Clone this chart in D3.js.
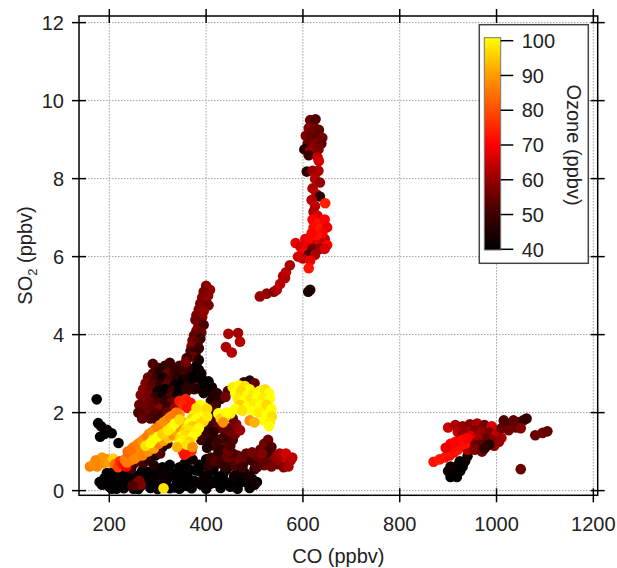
<!DOCTYPE html>
<html><head><meta charset="utf-8">
<script src="https://cdn.jsdelivr.net/npm/d3@7"></script>
<style>html,body{margin:0;padding:0;background:#fff;}svg{display:block;font-family:"Liberation Sans",Arial,sans-serif;}</style>
</head><body>
<svg id="chart" width="617" height="568"></svg>
<script>
// ---------- data: [CO ppbv, SO2 ppbv, Ozone ppbv] ----------
const xTicks = [200, 400, 600, 800, 1000, 1200];
const yTicks = [0, 2, 4, 6, 8, 10, 12];
const ozoneTicks = [40, 50, 60, 70, 80, 90, 100];
const ozoneStops = [40, 50, 60, 70, 80, 90, 100];
const ozoneColors = ["#000000", "#3c0000", "#960000", "#ff0000", "#ff5000", "#ffa000", "#ffff00"];

const blackBottom = [
[185,0.15,40],[195,0.22,40],[200,0.1,41],[210,0.18,40],[218,0.3,42],[225,0.12,40],[232,0.25,40],[240,0.15,41],
[245,0.35,40],[250,0.05,40],[255,0.22,42],[262,0.4,40],[270,0.3,41],[278,0.48,40],[285,0.38,40],[292,0.25,43],
[300,0.45,40],[305,0.15,40],[190,0.32,40],[205,0.35,41],[230,0.42,40],[215,0.05,40],[265,0.12,40],[280,0.2,41],
[295,0.55,42],[310,0.6,40],[320,0.5,40],[320,0.3,40],[330,0.45,40],[340,0.2,41],[345,0.6,40],[355,0.35,40],
[365,0.55,42],[375,0.25,40],[385,0.5,40],[395,0.65,41],[405,0.3,40],[415,0.55,40],[425,0.7,42],[435,0.4,40],
[445,0.6,41],[455,0.25,40],[465,0.5,44],[475,0.35,40],[485,0.2,40],[495,0.3,42],[505,0.22,40],[335,0.08,40],
[360,0.12,40],[390,0.15,41],[420,0.2,40],[450,0.1,40],[480,0.45,45],[500,0.55,46],[400,0.8,40],[430,0.82,42],
[460,0.78,44],[295,0.9,40],[285,0.98,45],[310,1.12,42],
[205,0.05,40],[230,0.06,41],[260,0.04,40],[285,0.07,40],[300,0.04,42],[325,0.06,40],[345,0.05,40],[370,0.06,41],
[400,0.05,40],[430,0.07,40],[465,0.05,42],[490,0.07,40],
[188,0.2,40],[212,0.22,40],[238,0.2,41],[268,0.22,40],[298,0.2,40],[315,0.18,42],[350,0.2,40],[380,0.22,40],
[410,0.18,41],[440,0.22,40],[470,0.2,40],[500,0.15,43],
[200,0.36,40],[222,0.34,41],[252,0.36,40],[275,0.35,40],[308,0.34,42],[338,0.36,40],[362,0.35,40],[395,0.38,41],
[425,0.36,40],[458,0.38,42],[488,0.36,44],
[210,0.5,40],[240,0.52,41],[268,0.5,40],[290,0.48,40],[318,0.52,42],[348,0.5,40],[378,0.52,40],[408,0.5,41],
[440,0.52,42],[472,0.5,43],[325,0.66,40],[355,0.68,41],[385,0.66,40],[415,0.68,42],[450,0.66,43],
[195,0.45,40],[180,0.22,41],[360,0.78,40],[372,0.8,42]
];
const darkLowBand = [
[255,0.18,55],[265,0.15,58],[262,0.25,57],[248,0.12,52],
[410,0.85,50],[425,0.95,48],[440,0.88,52],[450,0.75,54],[465,0.9,55],[478,0.72,50],[490,0.85,56],[500,0.7,53],
[512,0.8,55],[520,0.65,57],[530,0.78,56],[540,0.9,58],[548,0.68,55],[555,0.75,62],[562,0.85,64],[568,0.7,66],
[575,0.78,60],[560,0.6,58],[512,1.05,54],[520,1.2,56],[528,1.3,55],[535,1.12,52],[525,0.98,50],
[270,0.7,50],[282,0.78,48],[292,0.65,45],[298,1.05,50],[320,1.2,48],[305,0.95,52],
[240,0.72,58],[250,0.68,55],[258,0.75,52],[245,0.55,50],
[405,0.65,48],[418,0.75,52],[432,0.7,50],[445,0.85,55],[458,0.65,52],[470,0.8,56],[483,0.95,54],[495,0.78,50],
[505,0.9,55],[515,0.95,58],[525,0.72,54],[535,0.62,56],[545,0.82,60],[552,0.95,62],[565,0.95,66],[570,0.62,62],
[578,0.85,64],[440,0.6,48],[455,0.95,52],[475,0.6,50],[495,0.98,56],[505,0.6,52]
];
const blackLeft = [
[174,2.34,40],[177,1.73,40],[183,1.65,41],[195,1.56,40],[181,1.38,40],[205,1.47,41],[219,1.22,40],[190,1.45,40]
];
const orangeLeft = [
[160,0.62,86],[168,0.68,88],[175,0.62,87],[180,0.75,85],[188,0.7,88],[195,0.8,86],[200,0.72,90],[208,0.82,95],
[212,0.68,84],[218,0.6,78],[222,0.75,76],[185,0.85,89],[172,0.78,87],[228,0.68,72],[235,0.62,70]
];
const darkCluster = [
[300,3.15,50],[315,3.2,48],[330,3.15,52],[345,3.2,50],
[290,3.0,52],[305,3.05,46],[320,3.0,55],[335,3.05,49],[350,3.0,45],
[280,2.9,55],[295,2.85,50],[310,2.9,44],[325,2.85,52],[340,2.9,47],[355,2.88,42],
[275,2.75,57],[290,2.72,53],[305,2.7,48],[320,2.72,54],[335,2.7,42],[350,2.75,40],[365,2.7,52],[380,2.75,56],
[270,2.6,58],[285,2.58,55],[300,2.55,42],[315,2.6,40],[330,2.55,50],[345,2.6,41],[360,2.55,54],[375,2.6,48],
[265,2.45,58],[280,2.42,56],[295,2.4,50],[310,2.45,42],[325,2.4,52],[340,2.42,40],[355,2.45,44],
[270,2.3,57],[285,2.28,55],[300,2.25,52],[315,2.3,48],[330,2.28,55],
[275,2.15,56],[290,2.12,54],[305,2.1,58],[320,2.15,50],[335,2.12,60],
[280,2.0,55],[295,1.98,52],[310,1.95,50],
[360,2.9,45],[370,3.05,42],[380,3.2,40],[385,3.1,40],[368,2.85,44],[375,2.9,40],[390,3.0,42],[362,3.15,48],
[352,3.1,50],[385,2.62,45],[358,2.62,47],
[262,2.2,55],[260,2.0,52],[268,1.85,54],[285,1.85,52],[300,1.8,50],[320,2.0,55],[340,2.0,58],[290,3.25,52],[325,3.28,50],
[392,2.85,40],[405,2.8,41],[398,2.68,40],[412,2.65,42],[405,2.55,40],[395,2.5,43],[415,2.45,45],[422,2.5,48],
[410,2.3,45],[420,2.2,50],[430,2.35,48],[415,2.1,52],[425,2.45,46],
[400,1.5,48],[412,1.4,52],[425,1.3,50],[438,1.2,54],[405,1.25,45],[418,1.15,50],[430,1.05,48],[445,1.0,55],
[410,1.65,50],[422,1.6,55],[440,1.45,58],[455,1.3,52],
[398,1.8,50],[408,1.95,46],[420,1.85,52],[432,1.6,55],[448,1.6,54],[460,1.45,56],[450,1.15,52],[435,1.35,50],
[415,1.5,46],[402,1.1,44],[390,1.3,50],[462,1.7,58],[470,1.55,60],[455,1.85,55]
];
const redPatch = [
[345,2.3,73],[358,2.35,74],[368,2.25,72],[352,2.18,75],[362,2.12,72],[358,0.95,72],[370,1.02,74]
];
const orangeBand = [
[232,0.8,86],[240,0.9,84],[248,0.95,87],[255,1.05,85],[262,1.1,88],[270,1.2,86],[278,1.25,90],[285,1.35,87],
[292,1.42,92],[300,1.5,88],[308,1.55,86],[315,1.65,90],[322,1.72,88],[330,1.78,92],[338,1.85,86],[345,1.95,88],
[245,0.78,84],[255,0.85,86],[265,0.95,88],[275,1.02,85],[285,1.1,95],[295,1.18,92],[305,1.3,88],[315,1.38,96],
[325,1.45,90],[335,1.55,94],[342,1.65,88],
[238,1.0,83],[250,1.12,86],[262,1.22,84],[272,1.32,88],[282,1.45,86],[295,1.58,85],[305,1.68,88],[318,1.8,90],
[330,1.92,87],
[236,0.72,85],[252,0.82,87],[268,0.9,86],[280,1.0,88],[292,1.08,90],[302,1.2,86],[312,1.28,90],[322,1.35,94],
[332,1.42,88],[340,1.5,92],[348,1.6,89],[352,1.75,90],[245,1.05,84],[258,1.18,86],[268,1.28,88],[278,1.38,85],
[288,1.5,88],[300,1.62,86],[312,1.75,88],[325,1.88,86],[338,2.0,85],
[290,1.3,98],[300,1.38,100],[318,1.52,97],[328,1.62,100],[310,1.45,95],
[275,1.15,97],[285,1.22,100],[322,1.55,98],[335,1.72,100],[345,1.82,96]
];
const yellowBand = [
[395,2.15,98],[385,2.05,100],[398,2.0,97],[375,1.95,99],[390,1.9,100],[370,1.85,96],[382,1.8,98],[395,1.78,95],
[365,1.72,100],[378,1.68,97],[360,1.6,98],[372,1.55,100],[355,1.5,95],[368,1.45,97],[350,1.4,100],[362,1.35,98],
[345,1.3,96],[357,1.25,100],[350,1.15,93],[360,1.08,85],[352,1.0,78],[365,1.0,75],[355,0.92,72],[312,0.06,97],
[388,2.2,100],[402,2.1,96],[380,2.12,97],[378,1.82,100],[388,1.72,96],[402,1.9,98],[372,1.65,95],[385,1.6,100],
[365,1.55,97],[380,1.5,99],[358,1.42,96],[372,1.38,100],[352,1.3,98],[366,1.25,95],[345,1.2,100],[360,1.18,97],
[340,1.12,92],[372,1.12,88]
];
const yellowCluster = [
[478,2.78,50],[490,2.82,45],[500,2.75,55],[445,2.55,52],[440,2.4,56],
[455,2.65,98],[468,2.7,100],[480,2.68,97],[490,2.6,100],[460,2.5,100],[472,2.55,96],[485,2.45,100],[498,2.5,98],
[510,2.55,100],[522,2.6,97],[530,2.5,100],[465,2.35,98],[478,2.3,100],[492,2.35,97],[505,2.4,100],[518,2.38,98],
[532,2.35,100],[470,2.2,95],[485,2.15,100],[500,2.22,98],[512,2.2,100],[525,2.2,96],[535,2.1,100],[460,2.1,100],
[475,2.05,97],[495,2.05,100],[510,2.0,98],[525,1.95,100],[536,1.9,97],[520,1.8,100],[532,1.75,98],[530,1.65,100],
[450,1.98,99],[440,1.9,96],[425,1.98,100],[490,1.8,88],[500,1.75,92],[430,1.85,95],[442,2.0,100],[435,1.75,88]
];
const column400 = [
[400,5.25,58],[408,5.15,60],[395,5.1,57],[404,5.0,59],[392,4.95,58],[400,4.85,60],[388,4.8,57],[405,4.75,56],
[385,4.65,58],[395,4.6,60],[380,4.5,57],[392,4.45,59],[378,4.38,56],[388,4.3,55],[384,4.2,58],[395,4.25,52],
[380,4.1,57],[390,4.05,55],[375,3.98,54],[388,3.9,50],[372,3.85,56],[382,3.78,53],[370,3.7,58],[385,3.65,50],
[368,3.58,52],[378,3.5,48],[373,3.43,55],[360,3.4,50],[385,3.35,44],[358,3.3,56]
];
const smallCluster = [
[446,4.02,62],[466,4.04,61],[470,3.82,63],[441,3.68,62],[453,3.54,63]
];
const spike = [
[511,4.98,60],[525,5.05,60],[540,5.1,58],[546,5.15,62],[553,5.3,64],[563,5.45,63],[559,5.5,62],[565,5.6,64],[573,5.78,62],
[611,5.1,44],[615,5.15,45],
[605,6.45,68],[615,6.4,70],[630,6.35,66],[645,6.45,64],[650,6.3,70],[585,6.35,68],[595,6.25,66],[608,6.25,68],
[620,6.2,55],[635,6.2,60],[645,6.2,66],[600,6.1,70],[612,6.05,50],[625,6.05,62],[600,5.95,64],[615,5.9,68],
[612,5.7,72],[590,6.0,66],
[608,8.18,48],[620,8.2,60],[632,8.2,62],[625,8.0,63],[635,7.9,60],[620,7.75,62],[628,7.6,64],[635,7.54,48],
[646,7.37,74],[618,7.45,63],[625,7.3,64],[622,7.15,62],[630,7.05,66],[620,6.95,70],[632,6.85,72],[645,6.95,70],
[622,6.75,71],[635,6.7,73],[650,6.75,68],[640,6.6,70],[628,6.55,72],[618,6.6,70],
[615,9.5,55],[626,9.52,52],[612,9.3,58],[624,9.3,56],[633,9.25,54],[606,9.1,57],[618,9.1,55],[630,9.05,53],
[640,9.05,56],[610,8.9,55],[625,8.9,58],[638,8.9,54],[603,8.75,46],[615,8.72,60],[632,8.75,57],[612,8.6,50],
[630,8.55,64],[633,8.45,66]
];
const rightCluster = [
[905,0.35,40],[918,0.35,41],[900,0.5,42],[912,0.48,40],[925,0.5,40],[930,0.62,41],[918,0.62,40],[905,0.62,43],
[935,0.75,42],[924,0.75,40],[940,0.88,44],[915,0.4,40],
[900,1.62,65],[915,1.68,62],[930,1.65,60],[945,1.7,58],[960,1.72,62],[975,1.68,56],[990,1.65,66],[920,1.5,64],
[940,1.52,62],[955,1.55,58],[970,1.5,60],[985,1.48,57],[1000,1.45,64],[1010,1.35,62],[1005,1.25,60],[990,1.3,58],
[975,1.32,55],[960,1.35,62],[945,1.4,66],[950,1.2,56],[965,1.18,54],[980,1.15,52],[995,1.15,60],[940,1.05,62],
[955,1.05,58],[970,1.0,56],[930,1.5,60],[985,1.18,46],[975,1.08,48],
[870,0.74,72],[882,0.8,73],[893,0.85,72],[903,0.9,71],[900,1.0,72],[912,0.98,72],[920,1.05,73],[910,1.1,71],
[925,1.15,72],[935,1.2,72],[915,1.25,70],[930,1.3,71],[905,1.2,70],[940,1.35,70],[895,1.1,68],
[1010,1.6,55],[1020,1.72,54],[1030,1.68,53],[1040,1.62,55],[1045,1.75,52],[1055,1.8,50],[1062,1.85,48],
[1035,1.8,54],[1025,1.55,56],[1050,1.6,58],[1015,1.8,52],
[1080,1.42,55],[1095,1.48,56],[1105,1.52,54],[1050,0.55,55]
];

// ---------- layout ----------
const svg = d3.select("#chart");
const FS = 20;
const x = d3.scaleLinear().domain([137.4, 1209]).range([79, 597.7]);
const y = d3.scaleLinear().domain([-0.12, 12.17]).range([495.3, 16]);
const color = d3.scaleLinear().domain(ozoneStops).range(ozoneColors).clamp(true);

const plotL = 79, plotR = 597.7, plotT = 16, plotB = 495.3;

// grid
const grid = svg.append("g").attr("stroke", "#a0a0a0").attr("stroke-width", 1).attr("stroke-dasharray", "1.5,1.5");
grid.selectAll("line.gx").data(xTicks).join("line")
  .attr("x1", d => x(d)).attr("x2", d => x(d)).attr("y1", y(0)).attr("y2", y(12));
grid.selectAll("line.gy").data(yTicks).join("line")
  .attr("y1", d => y(d)).attr("y2", d => y(d)).attr("x1", plotL).attr("x2", x(1200));

// points
const allPoints = [].concat(blackBottom, darkLowBand, blackLeft, orangeLeft, darkCluster, redPatch,
  orangeBand, yellowBand, yellowCluster, column400, smallCluster, spike, rightCluster);
svg.append("g").selectAll("circle").data(allPoints).join("circle")
  .attr("cx", d => x(d[0])).attr("cy", d => y(d[1])).attr("r", 5.3)
  .attr("fill", d => color(d[2]));

// frame
svg.append("rect").attr("x", plotL).attr("y", plotT).attr("width", plotR - plotL).attr("height", plotB - plotT)
  .attr("fill", "none").attr("stroke", "#000").attr("stroke-width", 1.5);

// crossing ticks on all four sides
const axes = svg.append("g").attr("stroke", "#000").attr("stroke-width", 1.5);
axes.selectAll("line.tb").data(xTicks).join("line")
  .attr("x1", d => x(d)).attr("x2", d => x(d)).attr("y1", plotB - 7).attr("y2", plotB + 7);
axes.selectAll("line.tt").data(xTicks).join("line")
  .attr("x1", d => x(d)).attr("x2", d => x(d)).attr("y1", plotT - 7).attr("y2", plotT + 7);
axes.selectAll("line.tl").data(yTicks).join("line")
  .attr("y1", d => y(d)).attr("y2", d => y(d)).attr("x1", plotL - 7).attr("x2", plotL + 7);
axes.selectAll("line.tr").data(yTicks).join("line")
  .attr("y1", d => y(d)).attr("y2", d => y(d)).attr("x1", plotR - 7).attr("x2", plotR + 7);

svg.append("g").selectAll("text").data(xTicks).join("text")
  .attr("x", d => x(d)).attr("y", 530.7).attr("text-anchor", "middle")
  .attr("font-size", FS).attr("fill", "#222").text(d => d);
svg.append("g").selectAll("text").data(yTicks).join("text")
  .attr("x", 64).attr("y", d => y(d) + 7.2).attr("text-anchor", "end")
  .attr("font-size", FS).attr("fill", "#222").text(d => d);

// axis titles
svg.append("text").attr("x", (plotL + plotR) / 2).attr("y", 562.5).attr("text-anchor", "middle")
  .attr("font-size", FS).attr("fill", "#222").text("CO (ppbv)");
const yt = svg.append("text").attr("transform", "translate(31.5,255.5) rotate(-90)")
  .attr("text-anchor", "middle").attr("font-size", FS).attr("fill", "#222");
yt.append("tspan").text("SO");
yt.append("tspan").attr("font-size", 13).attr("dy", 5).text("2");
yt.append("tspan").attr("dy", -5).text(" (ppbv)");

// legend / colorbar
const lg = svg.append("g");
lg.append("rect").attr("x", 479.3).attr("y", 24.7).attr("width", 109).attr("height", 238.6)
  .attr("fill", "#fff").attr("stroke", "#444").attr("stroke-width", 1.5);
const cy = d3.scaleLinear().domain([40, 100]).range([249.3, 40.7]);
const defs = svg.append("defs");
const grad = defs.append("linearGradient").attr("id", "ozgrad").attr("x1", 0).attr("x2", 0).attr("y1", 1).attr("y2", 0);
grad.selectAll("stop").data(ozoneStops).join("stop")
  .attr("offset", d => (d - 40) / 60).attr("stop-color", d => color(d));
lg.append("rect").attr("x", 484.3).attr("y", 37.7).attr("width", 16.4).attr("height", 212.3)
  .attr("fill", "url(#ozgrad)").attr("stroke", "#777").attr("stroke-width", 1);
lg.selectAll("line.ct").data(ozoneTicks).join("line")
  .attr("x1", 500.7).attr("x2", 513.3).attr("y1", d => cy(d)).attr("y2", d => cy(d))
  .attr("stroke", "#000").attr("stroke-width", 1.5);
lg.selectAll("text.cl").data(ozoneTicks).join("text")
  .attr("x", 521.7).attr("y", d => cy(d) + 7.2).attr("font-size", FS).attr("fill", "#222").text(d => d);
lg.append("text").attr("transform", "translate(566.5,145) rotate(90)").attr("text-anchor", "middle")
  .attr("font-size", FS).attr("fill", "#222").text("Ozone (ppbv)");
</script>
</body></html>
